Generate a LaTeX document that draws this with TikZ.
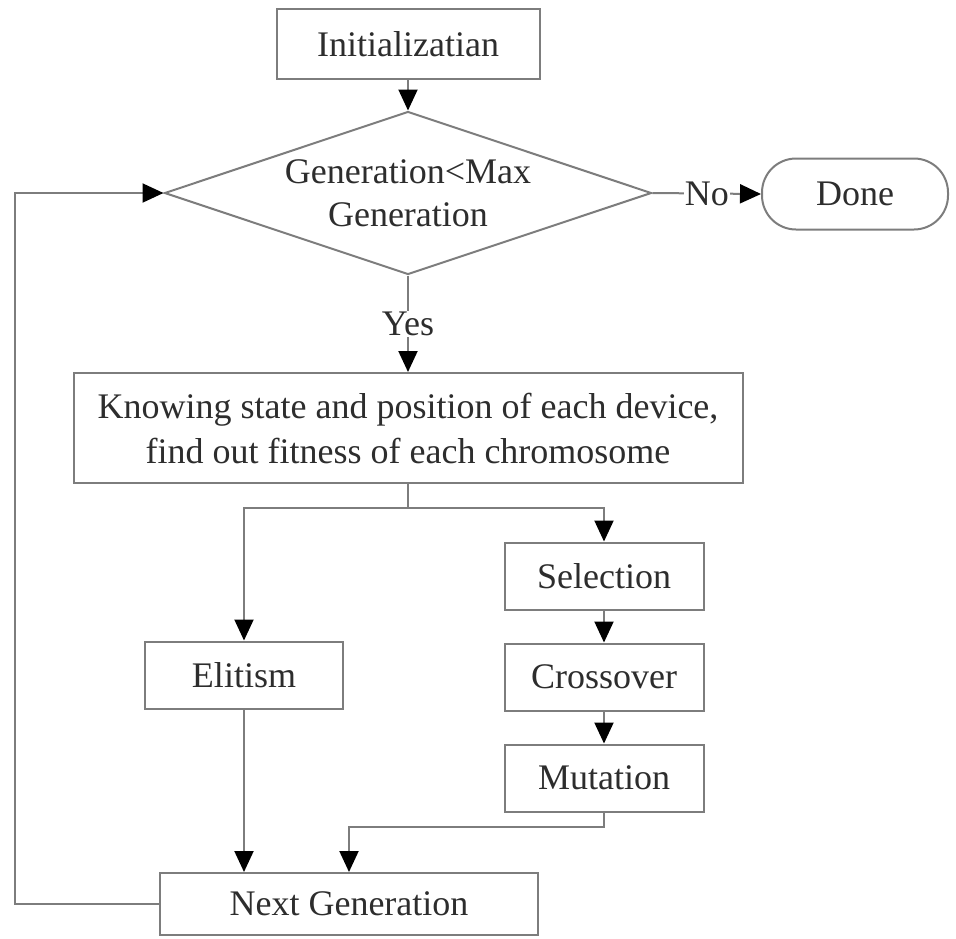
\documentclass[tikz,border=0pt]{standalone}
\usepackage{fontspec}
\setmainfont{Liberation Serif}
\usepackage{tikz}
\usetikzlibrary{shapes.geometric, arrows.meta, positioning}
\definecolor{linegray}{RGB}{125, 125, 125}
\definecolor{textgray}{RGB}{45, 45, 45}

\begin{document}
\begin{tikzpicture}[x=1pt, y=-1pt,
    stage/.style={draw=linegray, line width=2pt, minimum height=67pt,
                  align=center, text=textgray, font=\fontsize{36}{45}\selectfont},
    test/.style={diamond, aspect=3, draw=linegray, line width=2pt, inner sep=0pt,
                 minimum width=487pt, minimum height=163pt, align=center,
                 text=textgray, font=\fontsize{36}{43}\selectfont},
    terminal/.style={stage, rounded corners=34pt},
    flow/.style={draw=linegray, line width=2pt,
                 -{Triangle[length=21pt, width=19pt, black]}},
    tag/.style={fill=white, inner sep=1pt, text=textgray, font=\fontsize{36}{45}\selectfont}
]
    \useasboundingbox (0,0) rectangle (956,938);

    \node[stage, minimum width=263pt, minimum height=70pt] (init) at (408,44) {Initializatian};
    \node[test] (check) at (408,193) {Generation<Max\\Generation};
    \node[terminal, minimum width=186pt, minimum height=71pt] (done) at (855,194) {Done};
    \node[stage, minimum width=669pt, minimum height=110pt] (fitness) at (408,428)
        {Knowing state and position of each device,\\find out fitness of each chromosome};
    \node[stage, minimum width=199pt] (selection) at (604,576) {Selection};
    \node[stage, minimum width=199pt, below=32pt of selection] (crossover) {Crossover};
    \node[stage, minimum width=199pt, below=32pt of crossover] (mutation) {Mutation};
    \node[stage, minimum width=198pt] (elitism) at (244,675) {Elitism};
    \node[stage, minimum width=378pt, minimum height=62pt] (nextgen) at (349,904) {Next Generation};

    \coordinate (split) at (408,508);
    \coordinate (merge) at (349,827);
    \coordinate (back) at (15,0);

    \draw[flow] (init) -- (check);
    \draw[flow] (check.east) -- node[tag] {No} (done.west);
    \draw[flow] (check.south) -- node[tag] {Yes} (fitness.north);
    \draw[draw=linegray, line width=2pt] (fitness.south) -- (split);
    \draw[flow] (split) -| (elitism.north);
    \draw[flow] (split) -| (selection.north);
    \draw[flow] (selection) -- (crossover);
    \draw[flow] (crossover) -- (mutation);
    \draw[flow] (elitism.south) -- (elitism.south |- nextgen.north);
    \draw[flow] (mutation.south) |- (merge) -- (merge |- nextgen.north);
    \draw[flow] (nextgen.west) -- (nextgen.west -| back) |- (check.west);
\end{tikzpicture}
\end{document}
